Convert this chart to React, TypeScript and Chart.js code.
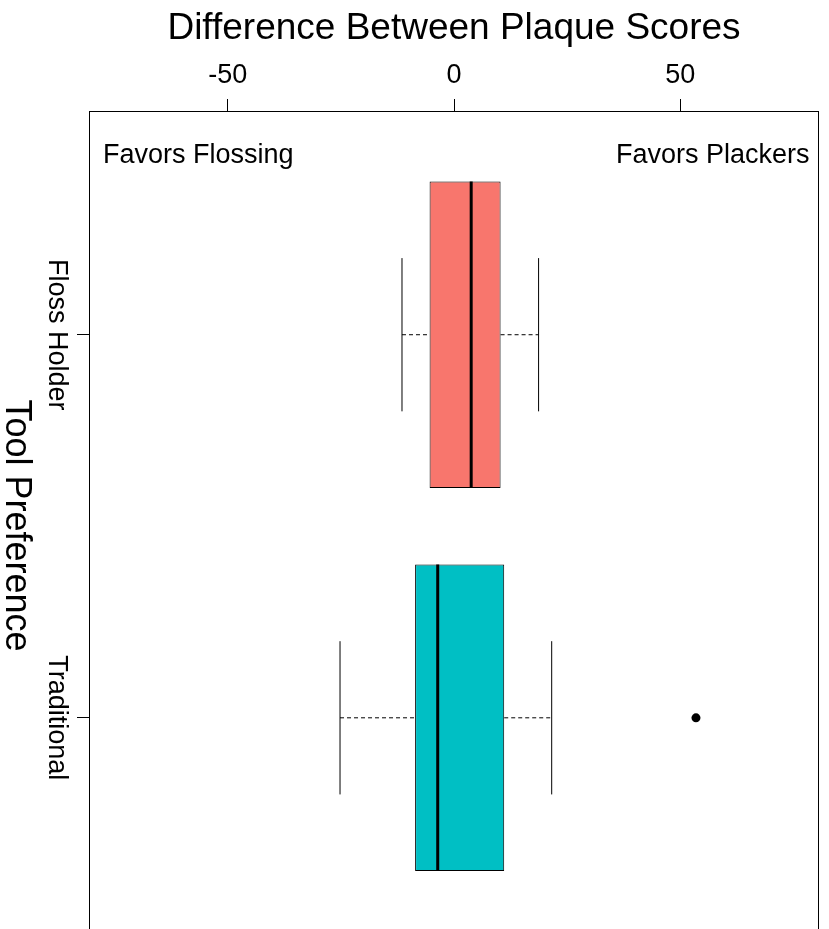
import React, { useEffect, useRef } from 'react';
import { Chart, registerables } from 'chart.js';

Chart.register(...registerables);

// ---- data ----
const GROUPS = ['Floss Holder', 'Traditional'];
const GROUP_POS = [2, 1];
const WHISKER_LOW = [-11.5, -25.2];
const Q1 = [-5.4, -8.6];
const MEDIAN = [3.8, -3.6];
const Q3 = [10.3, 11.1];
const WHISKER_HIGH = [18.7, 21.6];
const OUTLIERS: number[][] = [[], [53.5]];
const BOX_COLORS = ['#F8766D', '#00BFC4'];
const X_TICKS = [-50, 0, 50];
const X_TITLE = 'Difference Between Plaque Scores';
const Y_TITLE = 'Tool Preference';
const NOTE_LEFT = 'Favors Flossing';
const NOTE_RIGHT = 'Favors Plackers';

// ---- layout / style ----
const X_MIN = -80.7;
const X_MAX = 80.7;
const Y_MIN = 0.42;
const Y_MAX = 2.584;
const BOX_HALF = 0.4;
const CAP_HALF = 0.2;
const NOTE_LEFT_X = -77.6;
const NOTE_RIGHT_X = 78.6;
const NOTE_Y = 2.449;
const FONT = "'Liberation Sans', Arial, sans-serif";

function segment(x1: number, y1: number, x2: number, y2: number, width: number, dash: number[] = [], order = 1) {
  return {
    type: 'line' as const,
    data: [
      { x: x1, y: y1 },
      { x: x2, y: y2 },
    ],
    borderColor: '#000',
    borderWidth: width,
    borderDash: dash,
    pointRadius: 0,
    fill: false,
    tension: 0,
    order,
  };
}

function buildDatasets() {
  const ds: any[] = [];
  ds.push({
    type: 'bar',
    data: GROUPS.map((_, i) => ({ x: [Q1[i], Q3[i]], y: GROUP_POS[i] })),
    backgroundColor: BOX_COLORS,
    borderColor: '#000',
    borderWidth: 1,
    borderSkipped: false,
    categoryPercentage: 0.8,
    barPercentage: 1,
    order: 3,
  });
  GROUPS.forEach((_, i) => {
    const y = GROUP_POS[i];
    ds.push(segment(WHISKER_LOW[i], y, Q1[i], y, 1, [4, 3], 2));
    ds.push(segment(Q3[i], y, WHISKER_HIGH[i], y, 1, [4, 3], 2));
    ds.push(segment(WHISKER_LOW[i], y - CAP_HALF, WHISKER_LOW[i], y + CAP_HALF, 1, [], 2));
    ds.push(segment(WHISKER_HIGH[i], y - CAP_HALF, WHISKER_HIGH[i], y + CAP_HALF, 1, [], 2));
    ds.push(segment(MEDIAN[i], y - BOX_HALF, MEDIAN[i], y + BOX_HALF, 3, [], 0));
  });
  const outPts: { x: number; y: number }[] = [];
  OUTLIERS.forEach((arr, i) => arr.forEach((v) => outPts.push({ x: v, y: GROUP_POS[i] })));
  ds.push({
    type: 'scatter',
    data: outPts,
    pointRadius: 4.5,
    pointBackgroundColor: '#000',
    pointBorderWidth: 0,
    showLine: false,
    order: 0,
  });
  return ds;
}

const decorPlugin = {
  id: 'rDecor',
  afterDraw(chart: any) {
    const { ctx, chartArea: a, scales } = chart;
    const x = scales.x;
    const y = scales.y;
    ctx.save();
    // box around plot region
    ctx.strokeStyle = '#000';
    ctx.lineWidth = 1;
    ctx.strokeRect(a.left + 0.5, a.top + 0.5, a.right - a.left - 1, a.bottom - a.top - 1);

    ctx.fillStyle = '#000';
    // y tick labels (rotated, reading top to bottom)
    ctx.font = `27px ${FONT}`;
    ctx.textAlign = 'center';
    ctx.textBaseline = 'alphabetic';
    GROUPS.forEach((label, i) => {
      ctx.save();
      ctx.translate(a.left - 40, y.getPixelForValue(GROUP_POS[i]));
      ctx.rotate(Math.PI / 2);
      ctx.fillText(label, 0, 0);
      ctx.restore();
    });
    // y title
    ctx.font = `36px ${FONT}`;
    ctx.save();
    ctx.translate(a.left - 83.5, (a.top + a.bottom) / 2);
    ctx.rotate(Math.PI / 2);
    ctx.fillText(Y_TITLE, 0, 0);
    ctx.restore();
    // notes
    ctx.font = `27px ${FONT}`;
    ctx.textAlign = 'left';
    ctx.fillText(NOTE_LEFT, x.getPixelForValue(NOTE_LEFT_X), y.getPixelForValue(NOTE_Y));
    ctx.textAlign = 'right';
    ctx.fillText(NOTE_RIGHT, x.getPixelForValue(NOTE_RIGHT_X), y.getPixelForValue(NOTE_Y));
    ctx.restore();
  },
};

export default function App() {
  const ref = useRef<HTMLCanvasElement>(null);
  useEffect(() => {
    if (!ref.current) return;
    const chart = new Chart(ref.current, {
      type: 'bar',
      data: { datasets: buildDatasets() },
      options: {
        indexAxis: 'y',
        animation: false,
        responsive: false,
        devicePixelRatio: 1,
        events: [],
        layout: { padding: { left: 0, top: 0, right: 10, bottom: 5 } },
        plugins: { legend: { display: false }, tooltip: { enabled: false } },
        scales: {
          x: {
            type: 'linear',
            position: 'top',
            min: X_MIN,
            max: X_MAX,
            offset: false,
            afterBuildTicks: (s: any) => {
              s.ticks = X_TICKS.map((v) => ({ value: v }));
            },
            afterFit: (s: any) => {
              s.height = 111;
            },
            grid: { offset: false, drawOnChartArea: false, drawTicks: true, tickLength: 12, color: '#000', lineWidth: 1 },
            border: { display: false },
            ticks: { font: { family: FONT, size: 27 }, color: '#000', padding: 7, maxRotation: 0, autoSkip: false },
            title: {
              display: true,
              text: X_TITLE,
              font: { family: FONT, size: 37 },
              color: '#000',
              padding: { top: 7, bottom: 0 },
            },
          },
          y: {
            type: 'linear',
            min: Y_MIN,
            max: Y_MAX,
            offset: false,
            afterBuildTicks: (s: any) => {
              s.ticks = [...GROUP_POS].sort((a, b) => a - b).map((v) => ({ value: v }));
            },
            afterFit: (s: any) => {
              s.width = 89;
            },
            grid: { offset: false, drawOnChartArea: false, drawTicks: true, tickLength: 12, color: '#000', lineWidth: 1 },
            border: { display: false },
            ticks: { display: false },
          },
        },
      } as any,
      plugins: [decorPlugin],
    });
    return () => chart.destroy();
  }, []);
  return (
    <div style={{ position: 'fixed', left: 0, top: 0, width: 829, height: 929, overflow: 'hidden', background: '#fff' }}>
      <canvas ref={ref} width={829} height={945} style={{ display: 'block' }} />
    </div>
  );
}
